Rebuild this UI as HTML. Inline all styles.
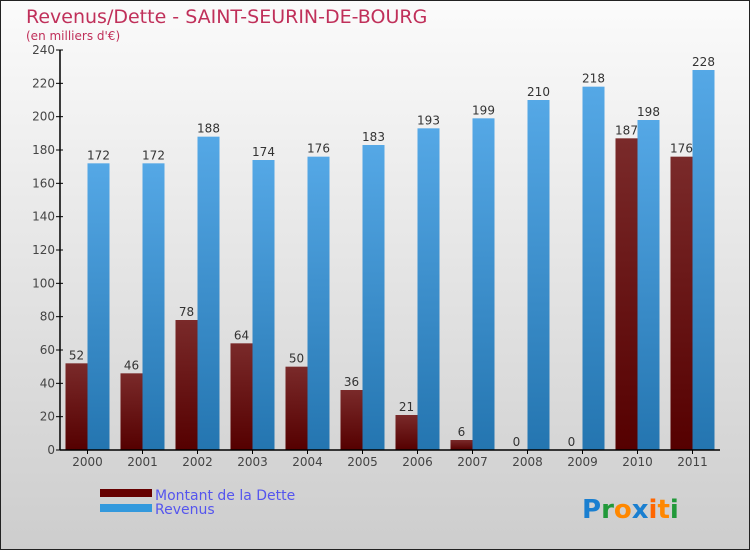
<!DOCTYPE html>
<html><head><meta charset="utf-8"><style>
body{margin:0;}
svg{display:block;font-family:"DejaVu Sans","Liberation Sans",sans-serif;}
</style></head><body>
<svg id="c" width="750" height="550">
<defs>
<linearGradient id="bg" x1="0" y1="0" x2="0" y2="1"><stop offset="0" stop-color="#fbfbfb"/><stop offset="1" stop-color="#cdcdcd"/></linearGradient>
<linearGradient id="gd" x1="0" y1="0" x2="0" y2="1"><stop offset="0" stop-color="#7a2a2a"/><stop offset="1" stop-color="#550000"/></linearGradient>
<linearGradient id="gr" x1="0" y1="0" x2="0" y2="1"><stop offset="0" stop-color="#55a8e6"/><stop offset="1" stop-color="#2475b0"/></linearGradient>
</defs>
<rect x="0.5" y="0.5" width="749" height="549" fill="url(#bg)" stroke="#222"/>
<text x="26" y="23" font-size="19" fill="#c0305a">Revenus/Dette - SAINT-SEURIN-DE-BOURG</text>
<text x="26" y="40" font-size="12" fill="#c0305a">(en milliers d'€)</text>
<g id="plot"></g>
<rect x="100" y="489" width="52" height="8" fill="#660000"/>
<text x="155" y="500" font-size="14" fill="#5555ee">Montant de la Dette</text>
<rect x="100" y="504" width="52" height="8" fill="#3399dd"/>
<text x="155" y="514" font-size="14" fill="#5555ee">Revenus</text>
<text x="582" y="518" font-size="26" font-weight="bold"><tspan fill="#1a7fd0">P</tspan><tspan fill="#22993a">r</tspan><tspan fill="#ff8800">o</tspan><tspan fill="#1a7fd0">x</tspan><tspan fill="#ff6600">i</tspan><tspan fill="#ff8800">t</tspan><tspan fill="#22993a">i</tspan></text>
</svg>
<script>
const years=["2000","2001","2002","2003","2004","2005","2006","2007","2008","2009","2010","2011"];
const dette=[52,46,78,64,50,36,21,6,0,0,187,176];
const revenus=[172,172,188,174,176,183,193,199,210,218,198,228];
const yTicks=[0,20,40,60,80,100,120,140,160,180,200,220,240];
const NS="http://www.w3.org/2000/svg";
const g=document.getElementById('plot');
const X0=60,X1=720,Y0=450,Y1=50,YMAX=240;
const step=(X1-X0)/years.length;
const y=v=>Y0-(v/YMAX)*(Y0-Y1);
const cx=i=>X0+step*(i+0.5);
function mk(t,a){const e=document.createElementNS(NS,t);for(const k in a)e.setAttribute(k,a[k]);g.appendChild(e);return e;}
yTicks.forEach(v=>{
 const l=mk('line',{x1:X0-4,x2:X0+3,y1:y(v),y2:y(v),stroke:'#000'});
 
 
 const t=mk('text',{x:X0-5,y:y(v)+4,'font-size':12,'text-anchor':'end',fill:'#444'});t.textContent=v;
 
 
});
years.forEach((yr,i)=>{
 const c=cx(i);
 const b1=mk('rect',{x:c-22,y:y(dette[i]),width:22,height:Y0-y(dette[i]),fill:'url(#gd)'});
 
 
 const b2=mk('rect',{x:c,y:y(revenus[i]),width:22,height:Y0-y(revenus[i]),fill:'url(#gr)'});
 
 
 const t1=mk('text',{x:c-11,y:y(dette[i])-4,'font-size':12,'text-anchor':'middle',fill:'#333'});t1.textContent=dette[i];
 
 
 const t2=mk('text',{x:c+11,y:y(revenus[i])-4,'font-size':12,'text-anchor':'middle',fill:'#333'});t2.textContent=revenus[i];
 
 
 const tk=mk('line',{x1:c,x2:c,y1:Y0,y2:Y0+4,stroke:'#000'});
 
 
 const xl=mk('text',{x:c,y:Y0+16,'font-size':12,'text-anchor':'middle',fill:'#444'});xl.textContent=yr;
 
 
});
const ya=mk('line',{x1:X0,x2:X0,y1:Y1,y2:Y0,stroke:'#000','stroke-width':1.5});


const xa=mk('line',{x1:X0,x2:X1,y1:Y0,y2:Y0,stroke:'#000','stroke-width':1.5});


</script>
</body></html>
